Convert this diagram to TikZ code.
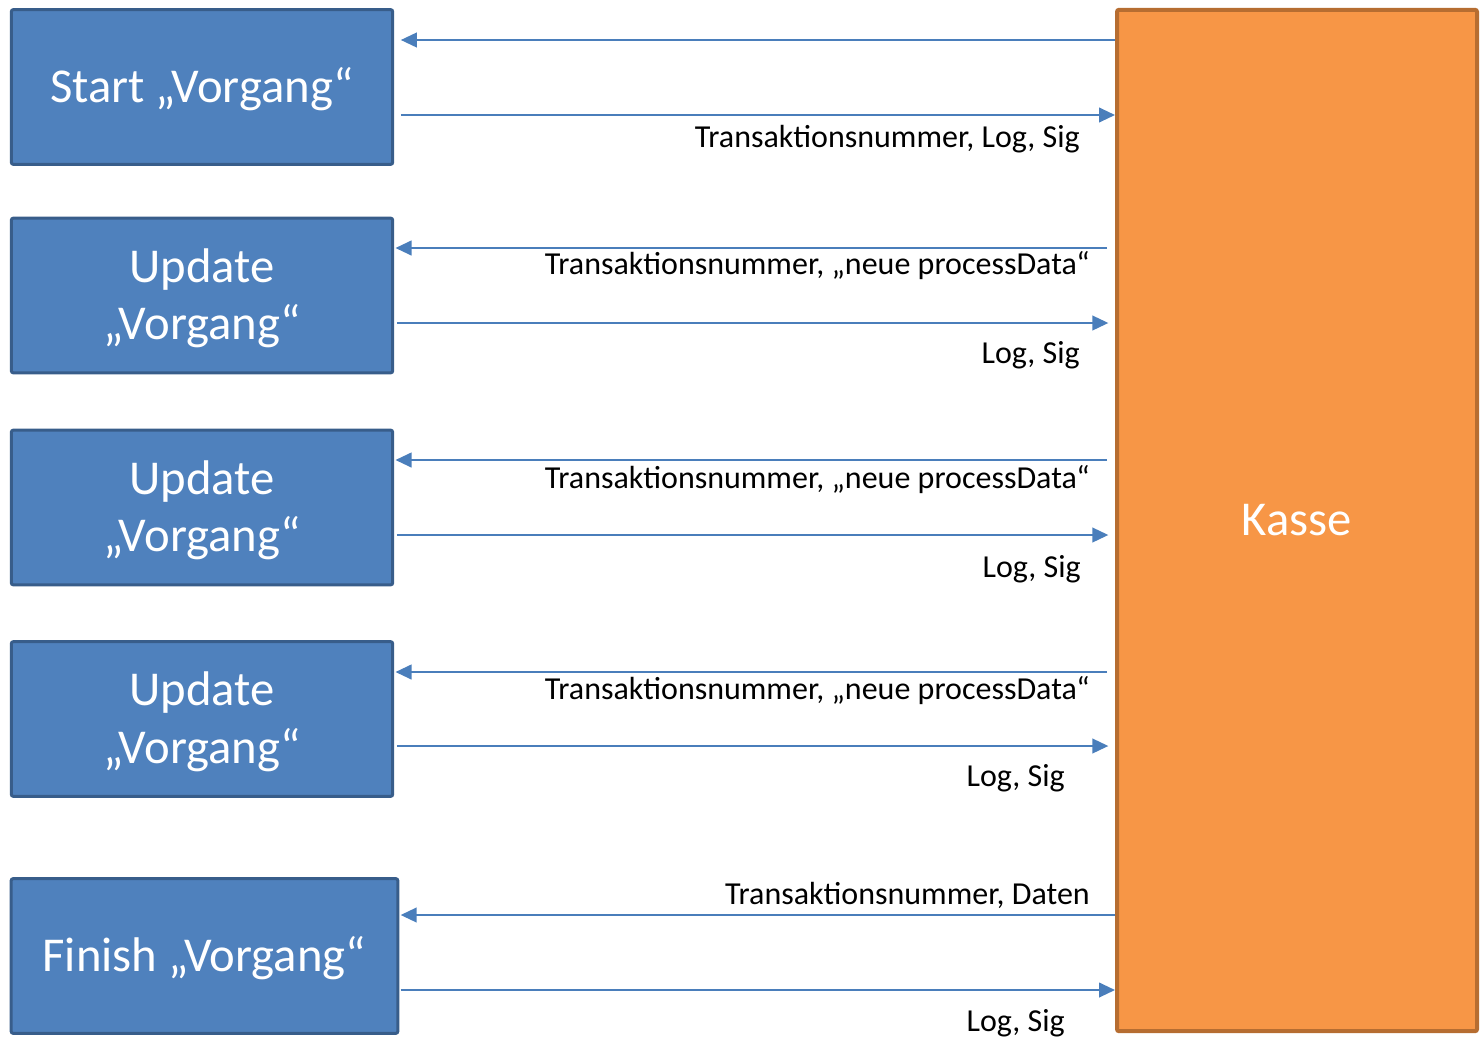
\documentclass[tikz,border=0pt]{standalone}
\usepackage{fontspec}
\setmainfont{Carlito}
\usetikzlibrary{arrows.meta}
\definecolor{BoxBlue}{HTML}{4F81BD}
\definecolor{BoxEdge}{HTML}{385D8A}
\definecolor{KasseOrange}{HTML}{F79646}
\definecolor{KasseEdge}{HTML}{B66D31}
\definecolor{ArrowBlue}{HTML}{4A7EBB}
\newcommand{\boxtext}[1]{\raisebox{-3pt}[\height][\depth]{\begin{tabular}{@{}c@{}}#1\end{tabular}}}

\begin{document}
\begin{tikzpicture}[x=0.75pt, y=-0.75pt,
    vorgang/.style={fill=BoxBlue, draw=BoxEdge, line width=2.25pt,
      rounded corners=1.5pt, minimum width=286pt, minimum height=116pt,
      inner sep=0pt, text=white,
      font=\fontsize{36.5}{43}\selectfont},
    msg/.style={draw=ArrowBlue, line width=1.5pt,
      -{Triangle[length=12pt,width=11pt]}},
    lbl/.style={anchor=east, inner sep=0pt, font=\fontsize{24}{28}\selectfont}]
  \useasboundingbox (0,0) rectangle (1480,1039);

  \node[vorgang] (start) at (202,87) {\boxtext{Start „Vorgang“}};
  \node[vorgang] (updA) at (202,295.5) {\boxtext{Update\\„Vorgang“}};
  \node[vorgang] (updB) at (202,507.5) {\boxtext{Update\\„Vorgang“}};
  \node[vorgang] (updC) at (202,719) {\boxtext{Update\\„Vorgang“}};
  \node[vorgang, minimum width=290pt] (finish) at (204.5,956) {\boxtext{Finish „Vorgang“}};

  \node[fill=KasseOrange, draw=KasseEdge, line width=3pt, rounded corners=1.5pt,
        minimum width=270pt, minimum height=766pt, text=white,
        font=\fontsize{36.5}{43}\selectfont] (kasse) at (1297,520.5) {\boxtext{Kasse}};

  % Start
  \draw[msg, shorten >=5pt] (kasse.west |- 0,40) -- (start.east |- 0,40);
  \draw[msg, shorten <=5pt] (start.east |- 0,115) -- (kasse.west |- 0,115);
  \node[lbl] (lblstart) at (1080,139) {Transaktionsnummer, Log, Sig};

  % Updates
  \draw[msg, shorten <=6pt, shorten >=1pt] (kasse.west |- 0,248) -- (updA.east |- 0,248);
  \draw[msg, shorten <=2pt, shorten >=5pt] (updA.east |- 0,323) -- (kasse.west |- 0,323);
  \node[lbl] (lblreqA) at (1090,266) {Transaktionsnummer, „neue processData“};
  \node[lbl] (lblresA) at (1080,355) {Log, Sig};

  \draw[msg, shorten <=6pt, shorten >=1pt] (kasse.west |- 0,460) -- (updB.east |- 0,460);
  \draw[msg, shorten <=2pt, shorten >=5pt] (updB.east |- 0,535) -- (kasse.west |- 0,535);
  \node[lbl] (lblreqB) at (1090,480) {Transaktionsnummer, „neue processData“};
  \node[lbl] (lblresB) at (1081,569) {Log, Sig};

  \draw[msg, shorten <=6pt, shorten >=1pt] (kasse.west |- 0,672) -- (updC.east |- 0,672);
  \draw[msg, shorten <=2pt, shorten >=5pt] (updC.east |- 0,746) -- (kasse.west |- 0,746);
  \node[lbl] (lblreqC) at (1090,691) {Transaktionsnummer, „neue processData“};
  \node[lbl] (lblresC) at (1065,778) {Log, Sig};

  % Finish
  \draw[msg, shorten >=1pt] (kasse.west |- 0,915) -- (finish.east |- 0,915);
  \draw[msg, shorten <=1pt] (finish.east |- 0,990) -- (kasse.west |- 0,990);
  \node[lbl] (lblreqD) at (1090,895) {Transaktionsnummer, Daten};
  \node[lbl] (lblresD) at (1065,1023) {Log, Sig};
\end{tikzpicture}
\end{document}
